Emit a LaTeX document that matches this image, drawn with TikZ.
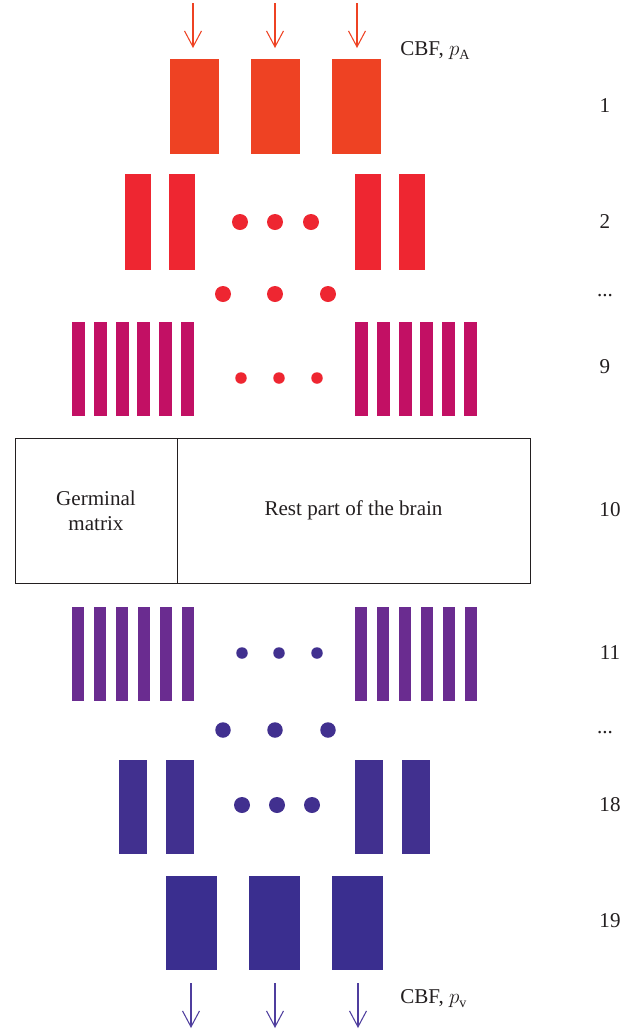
\documentclass[tikz,border=0pt]{standalone}
\usepackage{fontspec}
\setmainfont{Liberation Serif}
\usetikzlibrary{arrows.meta}
\definecolor{cOrange}{HTML}{EE4223}
\definecolor{cRed}{HTML}{EE2631}
\definecolor{cMagenta}{HTML}{C21064}
\definecolor{cPurple}{HTML}{6A2C90}
\definecolor{cIndigo}{HTML}{41308F}
\definecolor{cNavy}{HTML}{3A2E8F}
\definecolor{cArrow}{HTML}{4F3E9E}
\definecolor{cText}{HTML}{231F20}
\tikzset{
  bar/.style={rectangle, inner sep=0pt, draw=none, fill=#1},
  dot/.style={circle, inner sep=0pt, draw=none, fill=#1},
  flow/.style={draw=#1, line width=0.6pt, -{Straight Barb[length=3.2mm,width=3.4mm]}},
  lbl/.style={font=\fontsize{12}{14}\selectfont, inner sep=0pt, text=cText}
}
\begin{document}
\begin{tikzpicture}[x=0.02cm,y=-0.02cm]
\useasboundingbox (0,0) rectangle (635,1032);

% row 1
\node[bar=cOrange, minimum width=0.98cm, minimum height=1.9cm] (r1a) at (194.5,106.5) {};
\node[bar=cOrange, minimum width=0.98cm, minimum height=1.9cm] (r1b) at (275.5,106.5) {};
\node[bar=cOrange, minimum width=0.98cm, minimum height=1.9cm] (r1c) at (356.5,106.5) {};
\coordinate (in1) at (193,3);
\coordinate (in2) at (275,3);
\coordinate (in3) at (357,3);
\coordinate (to1) at (193,48);
\coordinate (to2) at (275,48);
\coordinate (to3) at (357,48);
\path[flow=cOrange] (in1) -- (to1);
\path[flow=cOrange] (in2) -- (to2);
\path[flow=cOrange] (in3) -- (to3);
\node[lbl, anchor=west] (cbfa) at (400,51) {CBF, $p_{\mathrm{A}}$};

% row 2
\node[bar=cRed, minimum width=0.52cm, minimum height=1.92cm] (r2a) at (138,222) {};
\node[bar=cRed, minimum width=0.52cm, minimum height=1.92cm] (r2b) at (182,222) {};
\node[bar=cRed, minimum width=0.52cm, minimum height=1.92cm] (r2c) at (368,222) {};
\node[bar=cRed, minimum width=0.52cm, minimum height=1.92cm] (r2d) at (412,222) {};
\node[dot=cRed, minimum size=0.32cm] (d2a) at (240,222) {};
\node[dot=cRed, minimum size=0.32cm] (d2b) at (275,222) {};
\node[dot=cRed, minimum size=0.32cm] (d2c) at (311,222) {};
\node[dot=cRed, minimum size=0.32cm] (g1a) at (223,294) {};
\node[dot=cRed, minimum size=0.32cm] (g1b) at (275,294) {};
\node[dot=cRed, minimum size=0.32cm] (g1c) at (328,294) {};

% row 9
\foreach \i in {0,...,5} {
  \node[bar=cMagenta, minimum width=0.26cm, minimum height=1.88cm] (r9l\i) at (78.5+21.8*\i,369) {};
  \node[bar=cMagenta, minimum width=0.26cm, minimum height=1.88cm] (r9r\i) at (361.5+21.8*\i,369) {};
}
\node[dot=cRed, minimum size=0.23cm] (d9a) at (241,378) {};
\node[dot=cRed, minimum size=0.23cm] (d9b) at (279,378) {};
\node[dot=cRed, minimum size=0.23cm] (d9c) at (317,378) {};

% row 10
\node[draw=cText, line width=0.45pt, minimum width=3.24cm, minimum height=2.9cm, align=center, lbl] (germ) at (96,510.5) {Germinal\\matrix};
\node[draw=cText, line width=0.45pt, minimum width=7.06cm, minimum height=2.9cm, lbl] (rest) at (353.5,510.5) {Rest part of the brain};

% row 11
\foreach \i in {0,...,5} {
  \node[bar=cPurple, minimum width=0.24cm, minimum height=1.88cm] (r11l\i) at (78+22*\i,654) {};
  \node[bar=cPurple, minimum width=0.24cm, minimum height=1.88cm] (r11r\i) at (361+22*\i,654) {};
}
\node[dot=cIndigo, minimum size=0.23cm] (d11a) at (242,653) {};
\node[dot=cIndigo, minimum size=0.23cm] (d11b) at (279,653) {};
\node[dot=cIndigo, minimum size=0.23cm] (d11c) at (317,653) {};
\node[dot=cIndigo, minimum size=0.31cm] (g2a) at (223,730) {};
\node[dot=cIndigo, minimum size=0.31cm] (g2b) at (275,730) {};
\node[dot=cIndigo, minimum size=0.31cm] (g2c) at (328,730) {};

% row 18
\node[bar=cIndigo, minimum width=0.56cm, minimum height=1.88cm] (r18a) at (133,807) {};
\node[bar=cIndigo, minimum width=0.56cm, minimum height=1.88cm] (r18b) at (180,807) {};
\node[bar=cIndigo, minimum width=0.56cm, minimum height=1.88cm] (r18c) at (369,807) {};
\node[bar=cIndigo, minimum width=0.56cm, minimum height=1.88cm] (r18d) at (416,807) {};
\node[dot=cIndigo, minimum size=0.32cm] (d18a) at (242,805) {};
\node[dot=cIndigo, minimum size=0.32cm] (d18b) at (277,805) {};
\node[dot=cIndigo, minimum size=0.32cm] (d18c) at (312,805) {};

% row 19
\node[bar=cNavy, minimum width=1.02cm, minimum height=1.88cm] (r19a) at (191.5,923) {};
\node[bar=cNavy, minimum width=1.02cm, minimum height=1.88cm] (r19b) at (274.5,923) {};
\node[bar=cNavy, minimum width=1.02cm, minimum height=1.88cm] (r19c) at (357.5,923) {};
\coordinate (out1) at (191,983);
\coordinate (out2) at (275,983);
\coordinate (out3) at (358,983);
\coordinate (end1) at (191,1028);
\coordinate (end2) at (275,1028);
\coordinate (end3) at (358,1028);
\path[flow=cArrow] (out1) -- (end1);
\path[flow=cArrow] (out2) -- (end2);
\path[flow=cArrow] (out3) -- (end3);
\node[lbl, anchor=west] (cbfv) at (400,999) {CBF, $p_{\mathrm{v}}$};

% layer numbers
\node[lbl] (n1) at (605,106) {1};
\node[lbl] (n2) at (605,222) {2};
\node[lbl] (n3) at (605,296) {...};
\node[lbl] (n9) at (605,367) {9};
\node[lbl] (n10) at (610,510) {10};
\node[lbl] (n11) at (610,653) {11};
\node[lbl] (n12) at (605,733) {...};
\node[lbl] (n18) at (610,805) {18};
\node[lbl] (n19) at (610,921) {19};
\end{tikzpicture}
\end{document}
